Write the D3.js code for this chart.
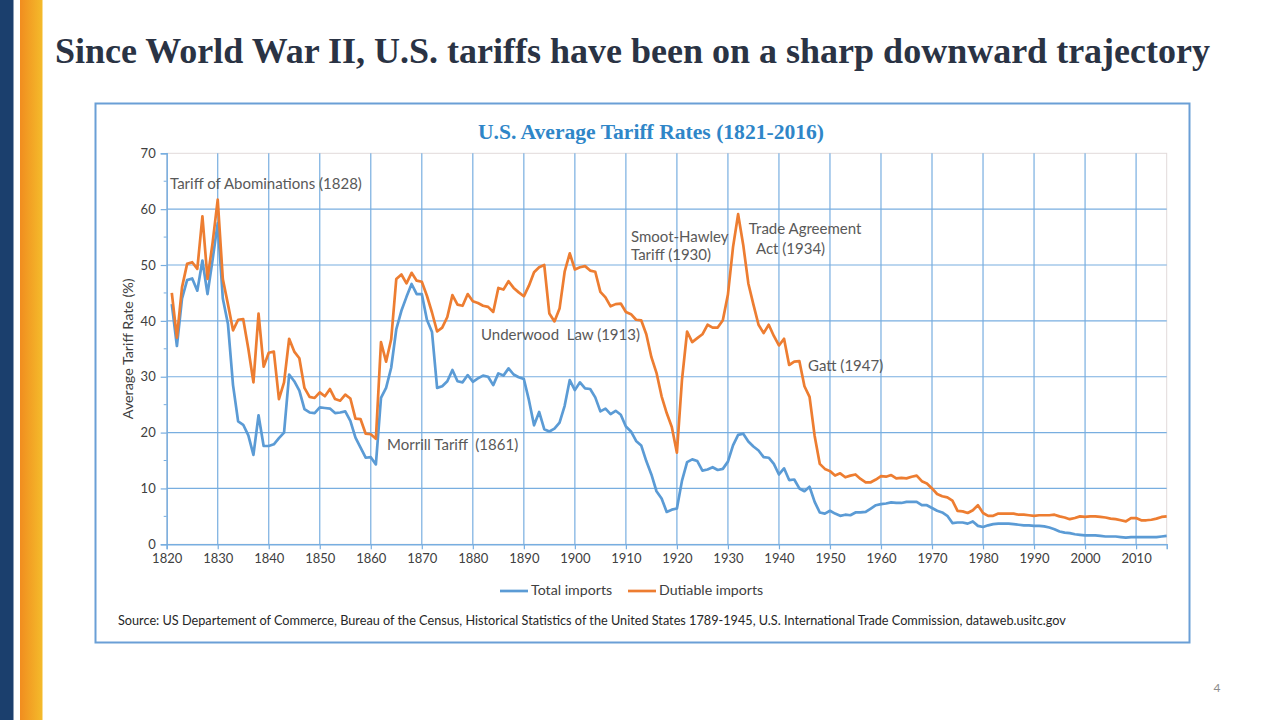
<!DOCTYPE html>
<html><head><meta charset="utf-8">
<script src="https://cdn.jsdelivr.net/npm/d3@7"></script>
<style>
html,body{margin:0;padding:0;background:#fff;}
svg{display:block;}
text{white-space:pre;}
</style></head>
<body>
<svg id="chart" width="1280" height="720"></svg>
<script>
// ---------------- DATA ----------------
const years = d3.range(1821, 2017);
const totalImports = [
 43.0,35.5,44.0,47.3,47.6,45.4,50.8,44.8,51.0,57.5, // 1821-1830
 44.0,39.5,28.5,22.0,21.4,19.5,16.0,23.1,17.6,17.6, // 1831-1840
 17.9,19.0,20.0,30.4,29.2,27.5,24.2,23.6,23.5,24.5, // 1841-1850
 24.4,24.3,23.5,23.6,23.8,22.1,19.1,17.3,15.5,15.6, // 1851-1860
 14.3,26.2,28.0,31.6,38.5,41.8,44.3,46.6,44.8,44.8, // 1861-1870
 40.2,38.0,28.0,28.3,29.2,31.2,29.2,29.0,30.3,29.1, // 1871-1880
 29.7,30.2,30.0,28.5,30.6,30.2,31.5,30.4,29.9,29.6, // 1881-1890
 25.8,21.3,23.7,20.6,20.2,20.7,21.8,24.8,29.4,27.6, // 1891-1900
 29.0,27.9,27.8,26.3,23.8,24.3,23.3,23.9,23.2,21.1, // 1901-1910
 20.2,18.5,17.7,14.9,12.5,9.5,8.2,5.8,6.2,6.4,      // 1911-1920
 11.4,14.7,15.2,14.9,13.2,13.4,13.8,13.3,13.5,14.8, // 1921-1930
 17.7,19.6,19.8,18.4,17.5,16.8,15.6,15.5,14.4,12.5, // 1931-1940
 13.6,11.5,11.6,10.0,9.5,10.3,7.6,5.7,5.5,6.0,      // 1941-1950
 5.5,5.1,5.3,5.2,5.7,5.7,5.8,6.4,7.0,7.2,           // 1951-1960
 7.3,7.5,7.4,7.4,7.6,7.6,7.6,7.0,7.0,6.5,           // 1961-1970
 6.0,5.7,5.1,3.8,3.9,3.9,3.7,4.1,3.3,3.1,           // 1971-1980
 3.4,3.6,3.7,3.7,3.7,3.6,3.5,3.4,3.4,3.3,           // 1981-1990
 3.3,3.2,3.0,2.7,2.3,2.1,2.0,1.8,1.7,1.6,           // 1991-2000
 1.6,1.6,1.5,1.4,1.4,1.4,1.3,1.2,1.3,1.3,           // 2001-2010
 1.3,1.3,1.3,1.3,1.4,1.5                            // 2011-2016
];
const dutiableImports = [
 45.0,37.0,46.0,50.2,50.5,49.3,58.7,47.5,54.0,61.7, // 1821-1830
 47.5,43.0,38.3,40.2,40.3,35.0,29.0,41.3,31.8,34.3, // 1831-1840
 34.5,26.0,29.0,36.8,34.5,33.3,28.0,26.4,26.2,27.2, // 1841-1850
 26.5,27.8,26.0,25.7,26.8,26.1,22.5,22.4,19.8,19.7, // 1851-1860
 18.9,36.2,32.7,36.7,47.5,48.3,46.7,48.6,47.2,47.0, // 1861-1870
 44.5,41.5,38.1,38.8,40.7,44.6,42.9,42.7,44.8,43.5, // 1871-1880
 43.2,42.7,42.5,41.6,45.9,45.6,47.1,45.9,45.1,44.4, // 1881-1890
 46.3,48.7,49.6,50.0,41.3,39.9,42.2,48.8,52.1,49.2, // 1891-1900
 49.6,49.8,49.0,48.8,45.2,44.2,42.6,43.0,43.1,41.6, // 1901-1910
 41.2,40.2,40.1,37.6,33.5,30.7,26.5,23.5,21.0,16.4, // 1911-1920
 29.5,38.1,36.2,36.9,37.6,39.3,38.8,38.8,40.1,44.7, // 1921-1930
 53.2,59.1,53.6,46.7,42.9,39.3,37.8,39.3,37.3,35.6, // 1931-1940
 36.8,32.1,32.7,32.8,28.3,26.4,19.4,14.4,13.5,13.1, // 1941-1950
 12.3,12.7,12.0,12.3,12.5,11.7,11.1,11.1,11.6,12.2, // 1951-1960
 12.1,12.4,11.8,11.9,11.8,12.1,12.3,11.3,10.9,10.0, // 1961-1970
 9.0,8.6,8.4,7.8,6.0,5.9,5.6,6.1,7.0,5.6,           // 1971-1980
 5.1,5.1,5.5,5.5,5.5,5.5,5.3,5.3,5.2,5.1,           // 1981-1990
 5.2,5.2,5.2,5.3,5.0,4.8,4.5,4.7,5.0,4.9,           // 1991-2000
 5.0,5.0,4.9,4.8,4.6,4.5,4.3,4.1,4.7,4.7,           // 2001-2010
 4.3,4.3,4.4,4.6,4.9,5.0                            // 2011-2016
];
const seriesNames = ["Total imports", "Dutiable imports"];
const xTickValues = [1820,1830,1840,1850,1860,1870,1880,1890,1900,1910,1920,1930,1940,1950,1960,1970,1980,1990,2000,2010];
const yTickValues = [0,10,20,30,40,50,60,70];
const annotations = [
  {lines:["Tariff of Abominations (1828)"], year:1820.65, value:64.3},
  {lines:["Morrill Tariff  (1861)"], year:1863.2, value:17.6},
  {lines:["Underwood  Law (1913)"], year:1881.6, value:37.3},
  {lines:["Smoot-Hawley","Tariff (1930)"], year:1911.0, value:54.8},
  {lines:["Trade Agreement"], year:1934.1, value:56.3},
  {lines:["Act (1934)"], year:1935.5, value:52.7},
  {lines:["Gatt (1947)"], year:1945.7, value:31.7}
];
const slideTitle = "Since World War II, U.S. tariffs have been on a sharp downward trajectory";
const chartTitle = "U.S. Average Tariff Rates (1821-2016)";
const yLabel = "Average Tariff Rate (%)";
const sourceText = "Source: US Departement of Commerce, Bureau of the Census, Historical Statistics of the United States 1789-1945, U.S. International Trade Commission, dataweb.usitc.gov";
const pageNumber = "4";

// ---------------- LAYOUT ----------------
const svg = d3.select("#chart");
const C_BLUE = "#5b9bd5", C_ORANGE = "#ed7d31", GRID = "#78aee0";
const sansFont = "Lato, 'Open Sans', 'Liberation Sans', sans-serif";

function fitWidth(sel, target){
  const w = sel.node().getComputedTextLength();
  const fs = parseFloat(sel.attr("font-size"));
  sel.attr("font-size", (fs * target / w).toFixed(2));
}

// left decorative bars
const defs = svg.append("defs");
const grad = defs.append("linearGradient").attr("id","og").attr("x1","0").attr("x2","1").attr("y1","0").attr("y2","0");
grad.append("stop").attr("offset","0%").attr("stop-color","#f18d1f");
grad.append("stop").attr("offset","100%").attr("stop-color","#f4bb2b");
svg.append("rect").attr("x",0).attr("y",0).attr("width",13.5).attr("height",720).attr("fill","#1b3f6d");
svg.append("rect").attr("x",20).attr("y",0).attr("width",22.5).attr("height",720).attr("fill","url(#og)");

// slide title
const st = svg.append("text").attr("x",55).attr("y",63)
  .attr("font-family","'Liberation Serif','DejaVu Serif',serif").attr("font-weight","bold")
  .attr("font-size",32).attr("fill","#2a3344").text(slideTitle);
fitWidth(st, 1155);

// page number
svg.append("text").attr("x",1217).attr("y",692).attr("text-anchor","middle")
  .attr("font-family",sansFont).attr("font-size",12).attr("fill","#8c8c8c").text(pageNumber);

// chart frame
svg.append("rect").attr("x",95.5).attr("y",103.5).attr("width",1094).attr("height",539)
  .attr("fill","#fff").attr("stroke","#6a9fd6").attr("stroke-width",2);

// chart title
const ct = svg.append("text").attr("x",651).attr("y",139).attr("text-anchor","middle")
  .attr("font-family","'Liberation Serif','DejaVu Serif',serif").attr("font-weight","bold")
  .attr("font-size",20).attr("fill","#2f86c8").text(chartTitle);
fitWidth(ct, 346);

// scales
const x = d3.scaleLinear().domain([1820, 2016]).range([166.7, 1166.7]);
const y = d3.scaleLinear().domain([0, 70]).range([544.3, 153.3]);

const g = svg.append("g");
// plot-area border (top/right)
g.append("rect").attr("x",x(1820)).attr("y",y(70)).attr("width",x(2016)-x(1820)).attr("height",y(0)-y(70))
  .attr("fill","none").attr("stroke","#e2dada").attr("stroke-width",1);

// horizontal gridlines
g.append("g").selectAll("line").data(yTickValues.filter(v=>v>0 && v<70)).join("line")
  .attr("x1",x(1820)).attr("x2",x(2016)).attr("y1",d=>y(d)).attr("y2",d=>y(d))
  .attr("stroke",GRID).attr("stroke-width",1.2);
// vertical gridlines
g.append("g").selectAll("line").data(xTickValues.filter(v=>v>1820)).join("line")
  .attr("x1",d=>x(d)).attr("x2",d=>x(d)).attr("y1",y(0)).attr("y2",y(70))
  .attr("stroke",GRID).attr("stroke-width",1.2);

// y axis
const yAxis = d3.axisLeft(y).tickValues(yTickValues).tickSize(6).tickPadding(5).tickFormat(d3.format("d"));
const ya = g.append("g").attr("transform",`translate(${x(1820)},0)`).call(yAxis);
// minor ticks
g.append("g").selectAll("line").data([5,15,25,35,45,55,65]).join("line")
  .attr("x1",x(1820)-3).attr("x2",x(1820)).attr("y1",d=>y(d)).attr("y2",d=>y(d))
  .attr("stroke",GRID).attr("stroke-width",1);
// x axis
const xAxis = d3.axisBottom(x).tickValues(xTickValues).tickSize(5).tickPadding(4).tickFormat(d3.format("d"));
const xa = g.append("g").attr("transform",`translate(0,${y(0)})`).call(xAxis);
[ya, xa].forEach(a=>{
  a.select(".domain").attr("stroke",GRID).attr("stroke-width",1.5);
  a.selectAll(".tick line").attr("stroke",GRID).attr("stroke-width",1.2);
  a.selectAll(".tick text").attr("font-family",sansFont).attr("font-size",13).attr("fill","#404040");
});
ya.selectAll(".tick text").attr("x",-11);

// y label
g.append("text").attr("transform",`translate(133,${(y(0)+y(70))/2}) rotate(-90)`)
  .attr("text-anchor","middle").attr("font-family",sansFont).attr("font-size",14.3)
  .attr("fill","#404040").text(yLabel);

// lines
const totalData = years.map((yr,i)=>({year:yr, value:totalImports[i]}));
const dutData = years.map((yr,i)=>({year:yr, value:dutiableImports[i]}));
const line = d3.line().x(d=>x(d.year)).y(d=>y(d.value));
g.append("path").datum(totalData).attr("d",line).attr("fill","none")
  .attr("stroke",C_BLUE).attr("stroke-width",2.7).attr("stroke-linejoin","round");
g.append("path").datum(dutData).attr("d",line).attr("fill","none")
  .attr("stroke",C_ORANGE).attr("stroke-width",2.7).attr("stroke-linejoin","round");

// annotations
const annFs = 15;
annotations.forEach(a=>{
  const t = g.append("text").attr("font-family",sansFont).attr("font-size",annFs).attr("fill","#595959")
    .attr("dominant-baseline","middle").attr("xml:space","preserve");
  a.lines.forEach((ln,i)=>{
    t.append("tspan").attr("x",x(a.year)).attr("y",y(a.value)+i*18).text(ln);
  });
});

// legend
const legend = g.append("g");
const legItems = [{name:seriesNames[0],color:C_BLUE,x0:500},{name:seriesNames[1],color:C_ORANGE,x0:628}];
legItems.forEach(it=>{
  legend.append("line").attr("x1",it.x0).attr("x2",it.x0+28).attr("y1",591).attr("y2",591)
    .attr("stroke",it.color).attr("stroke-width",2.7);
  legend.append("text").attr("x",it.x0+31).attr("y",591).attr("dominant-baseline","middle")
    .attr("font-family",sansFont).attr("font-size",14.2).attr("fill","#404040").text(it.name);
});

// source
const src = g.append("text").attr("x",118).attr("y",622).attr("dominant-baseline","middle")
  .attr("font-family",sansFont).attr("font-size",12).attr("fill","#262626").text(sourceText);
fitWidth(src, 949);
</script>
</body></html>
